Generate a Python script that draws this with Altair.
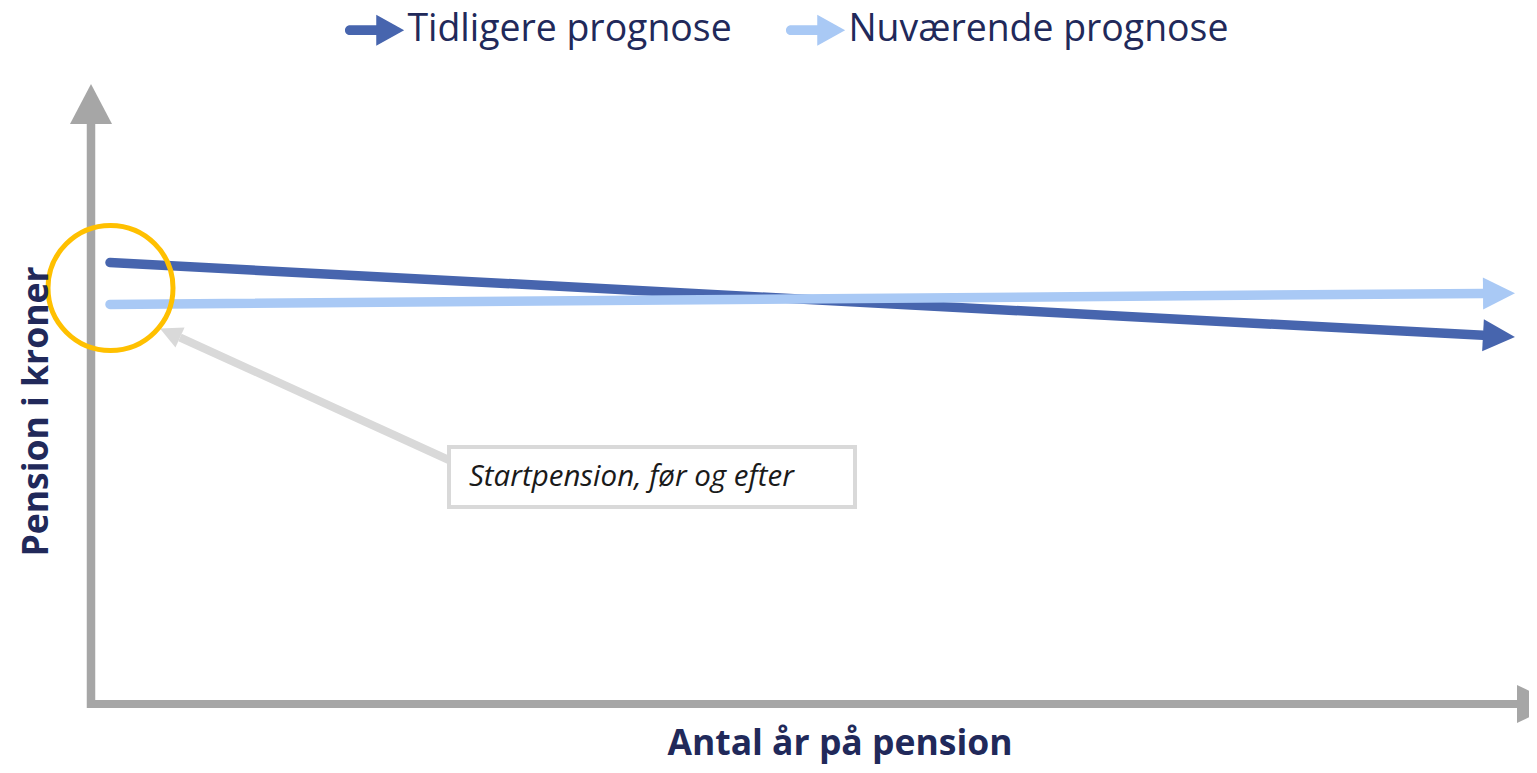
import math
import altair as alt
import pandas as pd

# ---------------- data ----------------
series = ["Tidligere prognose", "Nuværende prognose"]
years = [0, 30]                      # år på pension (start, slut)
tidligere = [100.0, 83.5]            # pension i kroner (indeks)
nuvaerende = [90.5, 93.0]
annotation_text = "Startpension, før og efter"
x_title = "Antal år på pension"
y_title = "Pension i kroner"

# ---------------- styles ----------------
COLORS = ["#4765AE", "#A9C9F5"]
TEXT = "#21295A"
AXIS_GRAY = "#A6A6A6"
NOTE_GRAY = "#D9D9D9"
GOLD = "#FFC000"
FONT = "Open Sans"

W, H = 1521, 757
M = 8


def px(v):
    return v - M


# layout of the value scales (image pixels)
X_START, X_END = 110, 1483
Y_ZERO, Y_100 = 704, 262.5
px_per_year = (X_END - X_START) / (years[1] - years[0])
px_per_kr = (Y_ZERO - Y_100) / 100.0

xs = alt.Scale(domain=[0, 30], range=[px(X_START), px(X_END)])
ys = alt.Scale(domain=[0, 100], range=[px(Y_ZERO), px(Y_100)])
cs = alt.Scale(domain=series, range=COLORS)

rows = []
for s, vals in zip(series, [tidligere, nuvaerende]):
    for yr, v in zip(years, vals):
        rows.append({"serie": s, "år": yr, "kroner": v})
df = pd.DataFrame(rows)

heads = []
for s, vals in zip(series, [tidligere, nuvaerende]):
    dx = (years[1] - years[0]) * px_per_year
    dy = -(vals[1] - vals[0]) * px_per_kr
    ang = math.degrees(math.atan2(dy, dx)) % 360
    heads.append({"serie": s, "år": years[1], "kroner": vals[1], "vinkel": ang})
dh = pd.DataFrame(heads)

one = pd.DataFrame({"k": [0]})

HEAD = "M0,-1L2,0L0,1Z"
LEGEND_SYMBOL = ("M-1.6,-0.32L0.1,-0.32L0.1,-1L1.9,0L0.1,1L0.1,0.32L-1.6,0.32"
                 "A0.32,0.32 0 0 1 -1.6,-0.32Z")

# ---------------- axes (drawn as arrows) ----------------
y_axis = alt.Chart(one).mark_rule(color=AXIS_GRAY, strokeWidth=8.5).encode(
    x=alt.value(px(91)), y=alt.value(px(708)), y2=alt.value(px(122)))
y_head = alt.Chart(one).mark_point(shape="M-1,0L0,-1.9L1,0Z", filled=True, size=1764,
                                   color=AXIS_GRAY, opacity=1, strokeWidth=0).encode(
    x=alt.value(px(91)), y=alt.value(px(124)))
x_axis = alt.Chart(one).mark_rule(color=AXIS_GRAY, strokeWidth=8).encode(
    x=alt.value(px(87)), x2=alt.value(px(1519)), y=alt.value(px(704)))
x_head = alt.Chart(one).mark_point(shape="M0,-1L2.1,0L0,1Z", filled=True, size=1444,
                                   color=AXIS_GRAY, opacity=1, strokeWidth=0).encode(
    x=alt.value(px(1517)), y=alt.value(px(704)))

# ---------------- series ----------------
lines = alt.Chart(df).mark_line(strokeWidth=9.5, strokeCap="round").encode(
    x=alt.X("år:Q", scale=xs, axis=None),
    y=alt.Y("kroner:Q", scale=ys, axis=None),
    color=alt.Color("serie:N", scale=cs, legend=None),
    detail="serie:N",
)
arrowheads = alt.Chart(dh).mark_point(shape=HEAD, filled=True, size=1024, opacity=1,
                                       strokeWidth=0).encode(
    x=alt.X("år:Q", scale=xs, axis=None),
    y=alt.Y("kroner:Q", scale=ys, axis=None),
    color=alt.Color("serie:N", scale=cs, legend=alt.Legend(
        title=None, orient="none", direction="horizontal",
        legendX=px(356), legendY=px(11),
        symbolType=LEGEND_SYMBOL, symbolSize=961, symbolStrokeWidth=0,
        symbolOpacity=1, labelFont=FONT, labelFontSize=37.4, labelColor=TEXT,
        labelOffset=14, columnPadding=53, padding=0, labelLimit=500)),
    angle=alt.Angle("vinkel:Q", scale=None),
)

# ---------------- annotation ----------------
circle = alt.Chart(one).mark_point(shape="circle", filled=False, size=125 * 125,
                                   color=GOLD, strokeWidth=5, opacity=1).encode(
    x=alt.value(px(110.5)), y=alt.value(px(288)))
note_line = alt.Chart(one).mark_rule(color=NOTE_GRAY, strokeWidth=8).encode(
    x=alt.value(px(451)), y=alt.value(px(461)), x2=alt.value(px(180)), y2=alt.value(px(337.5)))
note_head = alt.Chart(one).mark_point(shape=HEAD, filled=True, size=484, color=NOTE_GRAY,
                                      opacity=1, strokeWidth=0, angle=204.4).encode(
    x=alt.value(px(180)), y=alt.value(px(337.5)))
note_box = alt.Chart(one).mark_rect(fill="white", stroke=NOTE_GRAY, strokeWidth=4).encode(
    x=alt.value(px(449)), x2=alt.value(px(855)), y=alt.value(px(447)), y2=alt.value(px(507)))
note_text = alt.Chart(one).mark_text(text=annotation_text, font=FONT, fontSize=29.5,
                                     fontStyle="italic", color="#1A1A1A", align="left",
                                     baseline="middle").encode(
    x=alt.value(px(469)), y=alt.value(px(477)))

# ---------------- titles ----------------
xt = alt.Chart(one).mark_text(text=x_title, font=FONT, fontSize=35.5, fontWeight="bold",
                              color=TEXT, align="center", baseline="alphabetic").encode(
    x=alt.value(px(840)), y=alt.value(px(755)))
yt = alt.Chart(one).mark_text(text=y_title, font=FONT, fontSize=35.5, fontWeight="bold",
                              color=TEXT, align="center", baseline="middle", angle=270).encode(
    x=alt.value(px(37)), y=alt.value(px(411.5)))

chart = alt.layer(
    y_axis, y_head, x_axis, x_head,
    note_line, note_head, note_box, note_text,
    lines, arrowheads, circle, xt, yt,
).resolve_legend(color="independent").properties(
    width=W, height=H,
    autosize=alt.AutoSizeParams(type="none"),
    padding=0,
    background="white",
).configure_view(strokeWidth=0)

chart.save("out.html", embed_options={"renderer": "svg", "actions": False})
